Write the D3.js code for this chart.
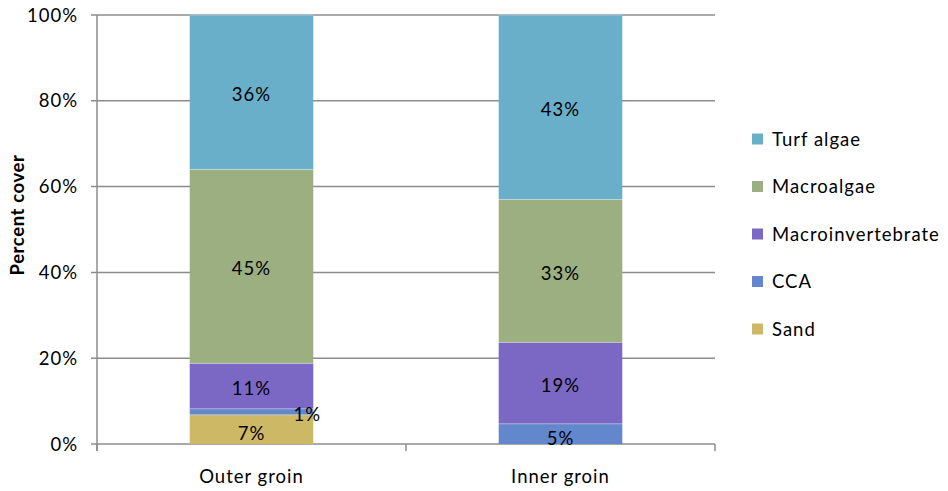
<!DOCTYPE html>
<html><head><meta charset="utf-8">
<script src="https://cdn.jsdelivr.net/npm/d3@7"></script>
<style>body{margin:0;background:#fff}svg{display:block}text{font-family:Lato,"Open Sans",sans-serif;fill:#000;letter-spacing:1px}</style>
</head><body><svg id="c" width="948" height="491"></svg>
<script>
const categories = ["Outer groin", "Inner groin"];
const seriesNames = ["Sand", "CCA", "Macroinvertebrate", "Macroalgae", "Turf algae"];
const sand = [6.8, 0];
const cca = [1.4, 4.7];
const macroinvertebrate = [10.6, 19.0];
const macroalgae = [45.2, 33.3];
const turfAlgae = [36.0, 43.0];
const yTicks = [0, 20, 40, 60, 80, 100];
const colors = ["#CDB866", "#6387CC", "#7B68C4", "#9BAF80", "#6AAFC9"];

const seriesValues = [sand, cca, macroinvertebrate, macroalgae, turfAlgae];
const rows = categories.map((c, i) => {
  const r = {cat: c};
  seriesNames.forEach((s, j) => r[s] = seriesValues[j][i]);
  return r;
});
const FS = 18.5;
const svg = d3.select("#c");
const L = 97, R = 715, T = 15, B = 444;
const x = d3.scaleBand().domain(categories).range([L, R]).paddingInner(0.6).paddingOuter(0.3);
const y = d3.scaleLinear().domain([0, 100]).range([B, T]);

svg.append("g").selectAll("line").data(yTicks).join("line")
  .attr("x1", L - 6).attr("x2", R).attr("y1", d => y(d)).attr("y2", d => y(d))
  .attr("stroke", "#8c8c8c").attr("stroke-width", 1.5);
svg.append("line").attr("x1", L).attr("x2", L).attr("y1", T).attr("y2", B + 7)
  .attr("stroke", "#8c8c8c").attr("stroke-width", 1.5);
const step = (R - L) / categories.length;
svg.append("g").selectAll("line").data(d3.range(categories.length + 1)).join("line")
  .attr("x1", d => L + d * step).attr("x2", d => L + d * step).attr("y1", B).attr("y2", B + 7)
  .attr("stroke", "#8c8c8c").attr("stroke-width", 1.5);

svg.append("g").selectAll("text").data(yTicks).join("text")
  .attr("x", 78).attr("y", d => y(d)).attr("dy", "0.36em").attr("text-anchor", "end")
  .attr("font-size", FS).text(d => d + "%");

svg.append("text").attr("transform", "translate(24,215) rotate(-90)").attr("text-anchor", "middle")
  .attr("font-size", FS).attr("font-weight", "bold").style("letter-spacing", "0.6px").text("Percent cover");

svg.append("g").selectAll("text").data(categories).join("text")
  .attr("x", d => x(d) + x.bandwidth() / 2).attr("y", 476).attr("dy", "0.36em")
  .attr("text-anchor", "middle").attr("font-size", FS).text(d => d);

const stack = d3.stack().keys(seriesNames)(rows);
const g = svg.append("g");
stack.forEach((layer, j) => {
  g.selectAll(null).data(layer).join("rect")
    .attr("x", d => x(d.data.cat)).attr("width", x.bandwidth())
    .attr("y", d => y(d[1])).attr("height", d => y(d[0]) - y(d[1]))
    .attr("fill", colors[j]);
});
stack.forEach((layer, j) => {
  g.selectAll(null).data(layer.filter(d => d[1] - d[0] > 0)).join("line")
    .attr("x1", d => x(d.data.cat)).attr("x2", d => x(d.data.cat) + x.bandwidth())
    .attr("y1", d => y(d[1])).attr("y2", d => y(d[1]))
    .attr("stroke", "rgba(255,255,255,0.35)").attr("stroke-width", 1);
});
stack.forEach((layer, j) => {
  g.selectAll(null).data(layer.filter(d => d[1] - d[0] > 0)).join("text")
    .attr("x", d => (d[1] - d[0]) < 3 ? x(d.data.cat) + x.bandwidth() - 6 : x(d.data.cat) + x.bandwidth() / 2)
    .attr("y", d => (d[1] - d[0]) < 3 ? y((d[0] + d[1]) / 2) + 3 : y((d[0] + d[1]) / 2) + ((d[1] - d[0]) < 8 ? 4 : 2))
    .attr("dy", "0.36em")
    .attr("text-anchor", "middle")
    .attr("font-size", FS)
    .text(d => Math.round(d[1] - d[0]) + "%");
});

const legendOrder = seriesNames.slice().reverse();
const lg = svg.append("g");
legendOrder.forEach((s, i) => {
  const cy = 139 + i * 47.5;
  lg.append("rect").attr("x", 752).attr("y", cy - 5.5).attr("width", 11).attr("height", 11)
    .attr("fill", colors[seriesNames.indexOf(s)]);
  lg.append("text").attr("x", 772).attr("y", cy).attr("dy", "0.36em").attr("font-size", FS).text(s);
});
</script></body></html>
